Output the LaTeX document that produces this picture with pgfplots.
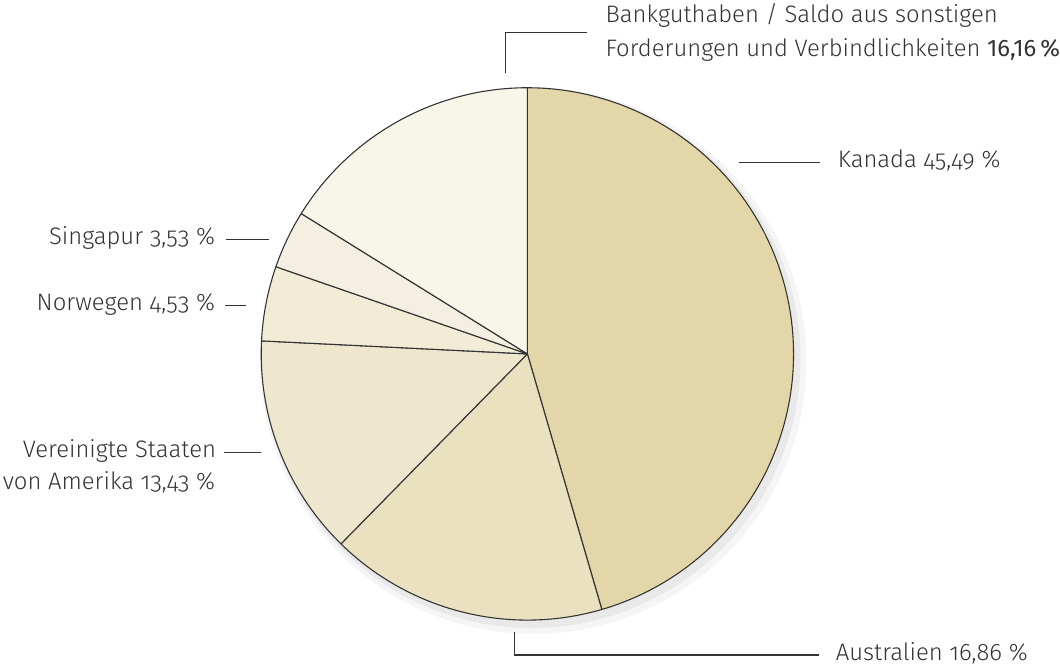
\documentclass[border=0pt]{standalone}
\usepackage{fontspec}
\setmainfont{Fira Sans}[UprightFont=* Light, BoldFont=*, Numbers=OldStyle]
\usepackage{pgfplots}
\pgfplotsset{compat=1.18}
\definecolor{txt}{HTML}{333333}
\definecolor{cKan}{HTML}{E3D7A9}
\definecolor{cAus}{HTML}{EAE1C0}
\definecolor{cUSA}{HTML}{EEE6CD}
\definecolor{cNor}{HTML}{F2EBD6}
\definecolor{cSin}{HTML}{F4EFE0}
\definecolor{cBank}{HTML}{F8F5E9}
\tikzset{lab/.style={text=txt,font=\fontsize{12}{14}\selectfont,inner sep=0pt}}
% shares in percent, clockwise from 12 o'clock
\def\pKan{45.49}\def\pAus{16.86}\def\pUSA{13.43}\def\pNor{4.53}\def\pSin{3.53}\def\pBank{16.16}
\pgfmathsetmacro\aA{90}
\pgfmathsetmacro\aB{\aA-3.6*\pKan}
\pgfmathsetmacro\aC{\aB-3.6*\pAus}
\pgfmathsetmacro\aD{\aC-3.6*\pUSA}
\pgfmathsetmacro\aE{\aD-3.6*\pNor}
\pgfmathsetmacro\aF{\aE-3.6*\pSin}
\pgfmathsetmacro\aG{\aF-3.6*\pBank}
\begin{document}
\begin{tikzpicture}
\begin{axis}[x=0.5bp,y=0.5bp,scale only axis,hide axis,clip=false,
 xmin=-529,xmax=531,ymin=-314,ymax=355]
\path (rel axis cs:0,0) rectangle (rel axis cs:1,1);
% soft shadow
\addplot[draw=none,fill=black,fill opacity=0.04,domain=0:360,samples=120]
 ({6+274*cos(x)},{-7+274*sin(x)}) -- cycle;
\addplot[draw=none,fill=black,fill opacity=0.05,domain=0:360,samples=120]
 ({4+270*cos(x)},{-5+270*sin(x)}) -- cycle;
\pgfplotsset{slice/.style={fill=#1,draw=txt,line width=0.55pt,line join=round,data cs=polar,samples=90}}
\addplot[slice=cKan,domain=\aA:\aB] ({x},{267}) -- (0,0) -- cycle;
\addplot[slice=cAus,domain=\aB:\aC] ({x},{267}) -- (0,0) -- cycle;
\addplot[slice=cUSA,domain=\aC:\aD] ({x},{267}) -- (0,0) -- cycle;
\addplot[slice=cNor,domain=\aD:\aE] ({x},{267}) -- (0,0) -- cycle;
\addplot[slice=cSin,domain=\aE:\aF] ({x},{267}) -- (0,0) -- cycle;
\addplot[slice=cBank,domain=\aF:\aG] ({x},{267}) -- (0,0) -- cycle;
% leader lines
\draw[txt,line width=0.55pt] (-22,282) -- (-22,322) -- (60,322);
\draw[txt,line width=0.55pt] (212,192) -- (294,192);
\draw[txt,line width=0.55pt] (-13,-279) -- (-13,-302) -- (293,-302);
\draw[txt,line width=0.55pt] (-302,115) -- (-259,115);
\draw[txt,line width=0.55pt] (-303,49) -- (-282,49);
\draw[txt,line width=0.55pt] (-304,-99) -- (-267,-99);
% labels
\node[lab,anchor=mid west] at (78,338) {Bankguthaben / Saldo aus sonstigen};
\node[lab,anchor=mid west] at (78,304) {Forderungen und Verbindlichkeiten \textbf{\addfontfeatures{Numbers=Lining}16,16\,\%}};
\node[lab,anchor=mid west] at (311,192) {Kanada 45,49 \%};
\node[lab,anchor=mid west] at (309,-302) {Australien 16,86 \%};
\node[lab,anchor=mid east] at (-313,115) {Singapur 3,53 \%};
\node[lab,anchor=mid east] at (-313,49) {Norwegen 4,53 \%};
\node[lab,anchor=mid east] at (-312,-99) {Vereinigte Staaten};
\node[lab,anchor=mid east] at (-313,-131) {von Amerika 13,43 \%};
\end{axis}
\end{tikzpicture}
\end{document}
